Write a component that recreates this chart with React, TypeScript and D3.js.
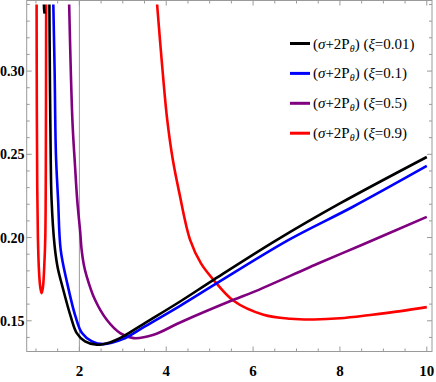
import React from 'react';
import * as d3 from 'd3';

// values: [r, value]
const black: [number, number][] = [
  [1.31, 0.34], [1.32, 0.30], [1.335, 0.26], [1.36, 0.2226], [1.43, 0.195], [1.5, 0.182],
  [1.6, 0.1715], [1.8, 0.1526], [1.94, 0.1426], [2.13, 0.1376], [2.4, 0.1356],
  [2.7, 0.137], [3.0, 0.1405], [3.5, 0.1485], [4.32, 0.1616], [5.09, 0.1746],
  [6.55, 0.1986], [8.0, 0.2205], [10, 0.2484],
];
const blackSpike: [number, number][] = [[1.183, 0.34], [1.19, 0.3365], [1.2, 0.3345]];
const blue: [number, number][] = [
  [1.4, 0.34], [1.43, 0.30], [1.46, 0.25], [1.51, 0.2226], [1.57, 0.1926], [1.72, 0.1726],
  [1.91, 0.1526], [2.06, 0.1426], [2.29, 0.1376], [2.55, 0.136], [3.0, 0.139],
  [3.5, 0.1465], [4.32, 0.159], [5.13, 0.172], [6.82, 0.1986], [8.3, 0.2185], [10, 0.243],
];
const purple: [number, number][] = [
  [1.765, 0.34], [1.84, 0.27], [1.9, 0.243], [1.95, 0.2226], [2.02, 0.203], [2.05, 0.193],
  [2.1, 0.184], [2.17, 0.1766], [2.36, 0.1626], [2.63, 0.1506], [2.94, 0.1426],
  [3.25, 0.1396], [3.71, 0.1416], [4.32, 0.149], [5.55, 0.1626], [6.0, 0.1672],
  [7.55, 0.185], [8.5, 0.1955], [10, 0.2124],
];
const redLeft: [number, number][] = [
  [1.015, 0.34], [1.02, 0.28], [1.03, 0.23], [1.045, 0.2], [1.07, 0.18], [1.1, 0.17],
  [1.13, 0.1666], [1.16, 0.17], [1.19, 0.182], [1.215, 0.2], [1.227, 0.24], [1.235, 0.34],
];
const redRight: [number, number][] = [
  [3.79, 0.34], [3.9, 0.305], [4.02, 0.2714], [4.15, 0.247], [4.3, 0.227], [4.55, 0.1986],
  [4.8, 0.1845], [5.09, 0.1746], [5.55, 0.162], [6.24, 0.1536], [6.86, 0.1512],
  [7.4, 0.1508], [8.0, 0.1515], [8.7, 0.1535], [9.4, 0.1558], [10, 0.1582],
];

const xTicks = [2, 4, 6, 8, 10];
const yTicks = [0.15, 0.2, 0.25, 0.3];
const legendXi = ['0.01', '0.1', '0.5', '0.9'];
const colors = ['#000000', '#0000ff', '#800080', '#ff0000'];

export default function App() {
  const left = 26.7, right = 432, top = 0.5, bottom = 351.5;
  const x = d3.scaleLinear().domain([0.787, 10.12]).range([left, right]);
  const y = d3.scaleLinear().domain([0.13155, 0.3424]).range([bottom, top]);

  const line = d3.line<[number, number]>()
    .x(d => x(d[0]))
    .y(d => y(d[1]))
    .curve(d3.curveCatmullRom.alpha(0.5));

  const xMinor = d3.range(1, 10.01, 0.5);
  const yMinor = d3.range(0.14, 0.341, 0.01);
  const grey = '#9a9a9a';

  const series: [[number, number][], string][] = [
    [redLeft, colors[3]],
    [redRight, colors[3]],
    [purple, colors[2]],
    [blue, colors[1]],
    [black, colors[0]],
    [blackSpike, colors[0]],
  ];

  return (
    <svg width={436} height={382} style={{ position: 'absolute', left: 0, top: 0, fontFamily: '"Liberation Serif", "Times New Roman", serif' }}>
      <defs>
        <clipPath id="plot">
          <rect x={left} y={top} width={right - left} height={bottom - top} />
        </clipPath>
      </defs>
      {/* axis at r = 2 */}
      <line x1={x(2)} x2={x(2)} y1={top} y2={bottom} stroke={grey} strokeWidth={1} />
      {/* frame */}
      <rect x={left} y={top} width={right - left} height={bottom - top} fill="none" stroke={grey} strokeWidth={1} />
      {xMinor.map(t => {
        const major = Math.abs(t % 2) < 1e-6;
        const len = major ? 5 : 3;
        return (
          <g key={'xt' + t}>
            <line x1={x(t)} x2={x(t)} y1={bottom} y2={bottom - len} stroke={grey} />
            <line x1={x(t)} x2={x(t)} y1={top} y2={top + len} stroke={grey} />
          </g>
        );
      })}
      {yMinor.map(t => {
        const major = yTicks.some(v => Math.abs(v - t) < 1e-6);
        const len = major ? 5 : 3;
        return (
          <g key={'yt' + t.toFixed(2)}>
            <line x1={left} x2={left + len} y1={y(t)} y2={y(t)} stroke={grey} />
            <line x1={right} x2={right - len} y1={y(t)} y2={y(t)} stroke={grey} />
          </g>
        );
      })}
      {xTicks.map(t => (
        <text key={'xl' + t} x={x(t)} y={376} textAnchor="middle" fontSize={15} fontWeight="bold">{t}</text>
      ))}
      {yTicks.map(t => (
        <text key={'yl' + t} x={24.5} y={y(t) + 5} textAnchor="end" fontSize={14} fontWeight="bold">{t.toFixed(2)}</text>
      ))}
      <g clipPath="url(#plot)">
        {series.map(([d, c], i) => (
          <path key={i} d={line(d) || ''} fill="none" stroke={c} strokeWidth={2.6} strokeLinejoin="round" />
        ))}
      </g>
      {legendXi.map((xi, i) => {
        const ly = 43.5 + i * 29.9;
        return (
          <g key={'lg' + i}>
            <line x1={290} x2={310} y1={ly} y2={ly} stroke={colors[i]} strokeWidth={3} />
            <text x={313} y={ly + 5} fontSize={15}>
              (<tspan fontStyle="italic">σ</tspan>+2P
              <tspan fontStyle="italic" fontSize={10} dy={3}>θ</tspan>
              <tspan dy={-3}>) (</tspan>
              <tspan fontStyle="italic">ξ</tspan>={xi})
            </text>
          </g>
        );
      })}
    </svg>
  );
}
